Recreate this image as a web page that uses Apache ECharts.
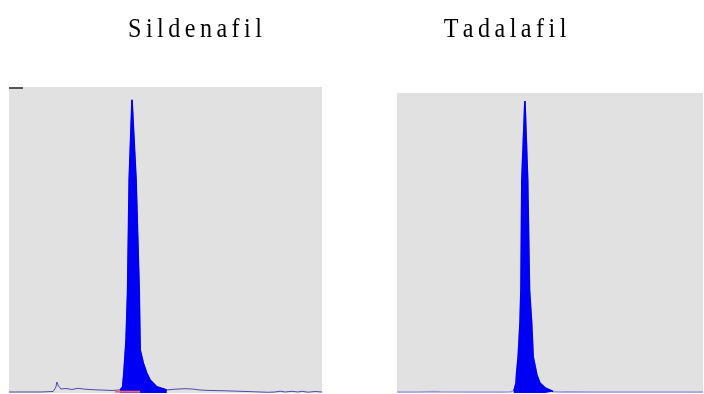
<!DOCTYPE html>
<html>
<head>
<meta charset="utf-8">
<script src="https://cdn.jsdelivr.net/npm/echarts@6/dist/echarts.min.js"></script>
<style>
html,body{margin:0;padding:0;background:#fff;}
#c{width:704px;height:394px;}
</style>
</head>
<body>
<div id="c"></div>
<script>
// Panel titles
const titles = ['Sildenafil', 'Tadalafil'];

// Sildenafil chromatogram: retention time (min) and detector response (% of full scale)
const silTime = [0.00,0.99,1.41,1.50,1.53,1.58,1.66,1.82,2.01,2.20,2.43,2.75,3.07,3.32,3.48,
  3.55,3.63,3.67,3.74,3.79,3.84,3.93,4.06,4.16,4.19,4.29,4.40,4.51,4.72,5.04,
  5.30,5.62,5.85,6.10,6.42,6.90,7.38,7.86,8.27,8.50,8.66,8.82,9.04,9.23,9.36,9.55,9.78,10.00];
const silResp = [0.33,0.33,0.49,1.96,3.59,2.29,1.31,1.47,1.14,1.54,1.24,1.05,0.92,0.82,0.98,
  0.98,1.96,6.5,17.3,33.7,69.6,95.8,69.6,33.7,14.1,9.8,6.5,4.2,2.0,1.0,
  1.24,1.41,1.31,0.98,0.82,0.72,0.56,0.39,0.23,0.33,0.59,0.33,0.56,0.33,0.56,0.26,0.49,0.33];
const silPeakStart = 3.55, silPeakEnd = 5.04;
const silIntTime = [3.39, 4.19];
const silIntResp = [0.42, 0.42];

// Tadalafil chromatogram
const tadTime = [0.00,0.75,1.18,1.41,2.39,3.37,3.69,
  3.82,3.89,3.91,3.96,4.02,4.05,4.08,4.18,4.27,4.33,4.40,4.45,4.57,4.67,4.84,5.10,
  5.33,5.50,6.50,7.50,8.50,9.50,10.00];
const tadResp = [0.33,0.33,0.50,0.43,0.33,0.33,0.40,
  0.67,3.3,6.7,12.0,23.3,34.3,71.0,97.3,71.0,34.3,23.3,12.0,6.0,3.3,1.7,0.5,
  0.33,0.45,0.33,0.33,0.33,0.33,0.33];
const tadPeakStart = 3.82, tadPeakEnd = 5.10;

function pairs(t, v, a, b) {
  const out = [];
  for (let i = 0; i < t.length; i++) {
    if (a === undefined || (t[i] >= a && t[i] <= b)) out.push([t[i], v[i]]);
  }
  return out;
}
function spaced(s) { return s.split('').map(c => '{c|' + c + '}').join(''); }

const titleRich = { c: { fontFamily: 'Liberation Serif', fontSize: 28, color: '#000', padding: [0, 2.6] } };
function titleText(str, cx) {
  return {
    type: 'text', x: cx, y: 44, scaleX: 0.86, silent: true,
    style: { text: spaced(str), rich: titleRich, fontFamily: 'Liberation Serif', fontSize: 28,
             fill: '#000', textAlign: 'center', textVerticalAlign: 'bottom' }
  };
}

const chart = echarts.init(document.getElementById('c'));
chart.setOption({
  animation: false,
  graphic: [
    titleText(titles[0], 195),
    titleText(titles[1], 505),
    { type: 'rect', shape: { x: 9, y: 87, width: 14, height: 2 }, style: { fill: '#555' }, silent: true }
  ],
  grid: [
    { left: 9, top: 87, width: 313, height: 306, show: true, backgroundColor: '#e1e1e1', borderWidth: 0 },
    { left: 397, top: 93, width: 306, height: 300, show: true, backgroundColor: '#e1e1e1', borderWidth: 0 }
  ],
  xAxis: [
    { type: 'value', gridIndex: 0, min: 0, max: 10, show: false },
    { type: 'value', gridIndex: 1, min: 0, max: 10, show: false }
  ],
  yAxis: [
    { type: 'value', gridIndex: 0, min: 0, max: 100, show: false },
    { type: 'value', gridIndex: 1, min: 0, max: 100, show: false }
  ],
  series: [
    { type: 'line', xAxisIndex: 0, yAxisIndex: 0, data: pairs(silTime, silResp), z: 2,
      symbol: 'none', lineStyle: { color: '#4a4aaa', width: 1 } },
    { type: 'line', xAxisIndex: 0, yAxisIndex: 0, data: pairs(silTime, silResp, silPeakStart, silPeakEnd), z: 3,
      symbol: 'none', lineStyle: { color: '#0000f5', width: 1.6 }, areaStyle: { color: '#0000f5', opacity: 1 } },
    { type: 'line', xAxisIndex: 0, yAxisIndex: 0, data: pairs(silIntTime, silIntResp), z: 4,
      symbol: 'none', lineStyle: { color: '#f0607c', width: 2 } },
    { type: 'line', xAxisIndex: 1, yAxisIndex: 1, data: pairs(tadTime, tadResp), z: 2,
      symbol: 'none', lineStyle: { color: '#9a9ae0', width: 1.5 } },
    { type: 'line', xAxisIndex: 1, yAxisIndex: 1, data: pairs(tadTime, tadResp, tadPeakStart, tadPeakEnd), z: 3,
      symbol: 'none', lineStyle: { color: '#0000f5', width: 1.6 }, areaStyle: { color: '#0000f5', opacity: 1 } }
  ]
});
</script>
</body>
</html>
